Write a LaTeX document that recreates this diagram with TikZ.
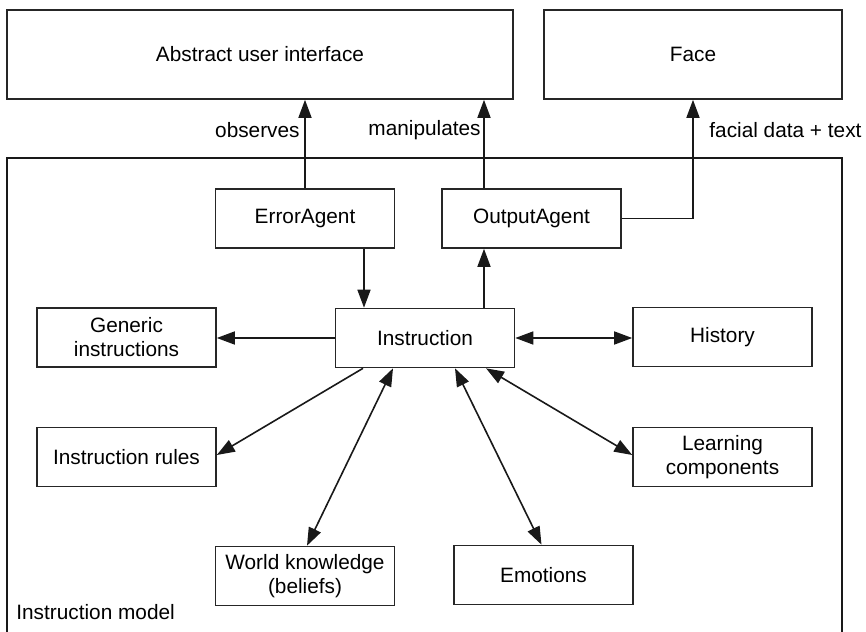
\documentclass[tikz,border=0pt]{standalone}
\usepackage{fontspec}
\setmainfont{Liberation Sans}
\usetikzlibrary{arrows.meta}
\begin{document}
\begin{tikzpicture}[x=0.5pt,y=-0.5pt,
  font=\fontsize{10.4}{12}\selectfont,
  box/.style={draw=black!85, line width=0.8pt, fill=white, align=center,
    inner sep=0pt, minimum width=89.5pt, minimum height=29.5pt},
  bigbox/.style={draw=black!85, line width=0.8pt, inner sep=0pt, align=center},
  conn/.style={draw=black!90, line width=0.8pt},
  arr/.style={conn, -{Triangle[length=9pt,width=6.5pt]}},
  darr/.style={conn, {Triangle[length=9pt,width=6.5pt]}-{Triangle[length=9pt,width=6.5pt]}},
  lbl/.style={inner sep=0pt}]
\useasboundingbox (0,0) rectangle (866,631);

% outer frame of the instruction model (open at the bottom)
\draw[conn] (7,632) -- (7,158) -- (842,158) -- (842,632);
\node[lbl, anchor=west] (model) at (16,612) {Instruction model};

% external components
\node[bigbox, minimum width=253pt, minimum height=44.5pt] (aui) at (260,54.5) {Abstract user interface};
\node[bigbox, minimum width=149pt, minimum height=44.5pt] (face) at (693,54.5) {Face};

% agents
\node[box] (err) at (305,218.5) {ErrorAgent};
\node[box] (out) at (531.5,218.5) {OutputAgent};

% instruction and its surroundings
\node[box] (gen)   at (126.5,337.5) {Generic\\instructions};
\node[box] (instr) at (425,338)     {Instruction};
\node[box] (hist)  at (722.5,337)   {History};
\node[box] (rules) at (126.5,457)   {Instruction rules};
\node[box] (learn) at (722.5,457)   {Learning\\components};
\node[box] (wk)    at (305,576)     {World knowledge\\(beliefs)};
\node[box] (emo)   at (543.5,575)   {Emotions};

% connections to the outside
\draw[arr] (err.north) -- (err.north |- aui.south);
\draw[arr] ([xshift=-23.75pt]out.north) -- ([xshift=-23.75pt]out.north |- aui.south);
\draw[arr] (out.east) -| (face.south);
\node[lbl, anchor=east] (obs) at (300,130) {observes};
\node[lbl, anchor=east] (man) at (481,130) {manipulates};
\node[lbl, anchor=west] (fac) at (709,130) {facial data + text};

% agents and instruction
\draw[arr] ([xshift=29.5pt]err.south) -- ([xshift=29.5pt]err.south |- instr.north);
\draw[arr] ([xshift=29.5pt]instr.north) -- ([xshift=29.5pt]instr.north |- out.south);

% instruction and its knowledge sources
\draw[arr]  (instr.west) -- (instr.west -| gen.east);
\draw[darr] (instr.east) -- (instr.east -| hist.west);
\draw[arr]  ([xshift=-31pt]instr.south) -- ([yshift=1pt]rules.east);
\draw[darr] ([xshift=1pt]wk.north) -- ([xshift=-16pt]instr.south);
\draw[darr] ([xshift=-1pt]emo.north) -- ([xshift=15pt]instr.south);
\draw[darr] ([yshift=1pt]learn.west) -- ([xshift=30.5pt]instr.south);
\end{tikzpicture}
\end{document}
